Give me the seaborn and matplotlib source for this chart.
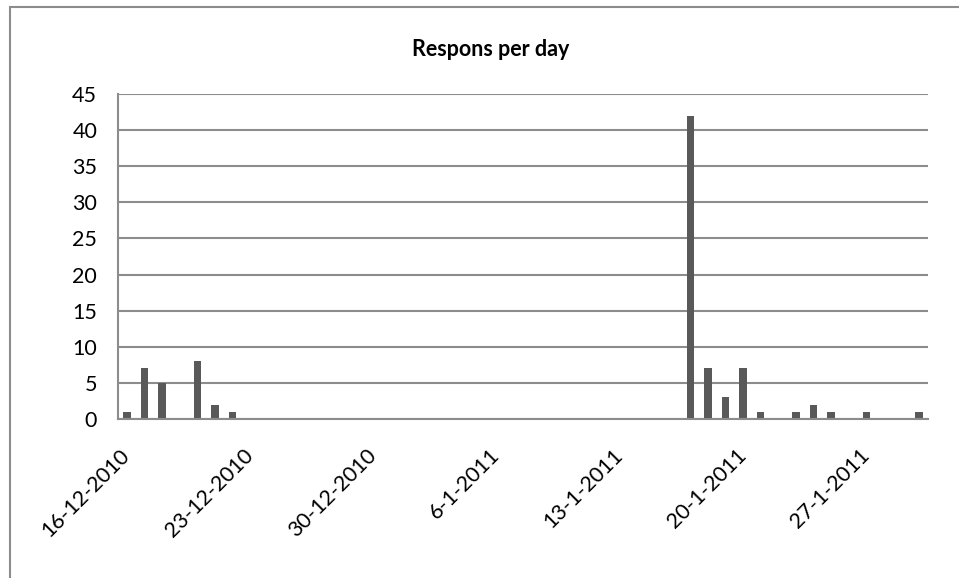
import numpy as np
import pandas as pd
import matplotlib
matplotlib.use("Agg")
from matplotlib import pyplot as plt
from matplotlib.patches import Rectangle
import seaborn as sns

# Days with responses (other days in the range had none)
response_dates = ["2010-12-16", "2010-12-17", "2010-12-18", "2010-12-20", "2010-12-21",
                  "2010-12-22", "2011-01-17", "2011-01-18", "2011-01-19", "2011-01-20",
                  "2011-01-21", "2011-01-23", "2011-01-24", "2011-01-25", "2011-01-27",
                  "2011-01-30"]
response_counts = [1, 7, 5, 8, 2, 1, 42, 7, 3, 7, 1, 1, 2, 1, 1, 1]
start_date = "2010-12-16"
end_date = "2011-01-30"
y_ticks = [0, 5, 10, 15, 20, 25, 30, 35, 40, 45]

# Full daily series, days without responses count as 0
days = pd.date_range(start_date, end_date, freq="D")
counts = pd.Series(response_counts, index=pd.to_datetime(response_dates)).reindex(days, fill_value=0)
df = pd.DataFrame({"day": [f"{d.day}-{d.month}-{d.year}" for d in days], "count": counts.values})

sns.set_style("white")
plt.rcParams["font.family"] = ["Lato", "DejaVu Sans"]
plt.rcParams["text.color"] = "black"

fig = plt.figure(figsize=(9.59, 5.78), dpi=100)
ax = fig.add_axes([118 / 959, 1 - 419 / 578, (928 - 118) / 959, (419 - 94) / 578])

sns.barplot(data=df, x="day", y="count", color="#595959", saturation=1, width=0.42,
            linewidth=0, ax=ax)

grid_c = "#8c8c8c"
ax.set_ylim(0, 45)
ax.set_yticks(y_ticks)
ax.set_xlim(-0.5, len(days) - 0.5)
ax.yaxis.grid(True, color=grid_c, linewidth=1.5)
ax.set_axisbelow(True)

# tick marks at left edge of each week slot, labels placed via minor ticks
week_pos = np.arange(0, len(days), 7)
ax.set_xticks(week_pos - 0.5)
ax.set_xticklabels([])
ax.set_xticks(week_pos, minor=True)
ax.set_xticklabels(df["day"].iloc[week_pos], minor=True, rotation=45, ha="right",
                   va="center", rotation_mode="anchor")

for side in ["top", "right"]:
    ax.spines[side].set_visible(False)
for side in ["left", "bottom"]:
    ax.spines[side].set_color(grid_c)
    ax.spines[side].set_linewidth(1.5)

ax.tick_params(axis="y", length=9, width=1.5, color=grid_c, labelsize=15.5, pad=6,
               labelcolor="black")
ax.tick_params(axis="x", which="major", length=7, width=1.5, color=grid_c)
ax.tick_params(axis="x", which="minor", length=0, labelsize=15.5, pad=24, labelcolor="black")
ax.set_xlabel("")
ax.set_ylabel("")

fig.text(491 / 959, 1 - 50 / 578, "Respons per day", ha="center", va="center",
         fontsize=15.5, fontweight="bold", color="black")

# outer chart frame (runs off the right and bottom edges)
fig.patches.append(Rectangle((10 / 959, -0.05), 1.1, 1 - 7 / 578 + 0.05, transform=fig.transFigure,
                             fill=False, edgecolor="#8c8c8c", linewidth=1.5))

fig.savefig("out.png", dpi=100)
